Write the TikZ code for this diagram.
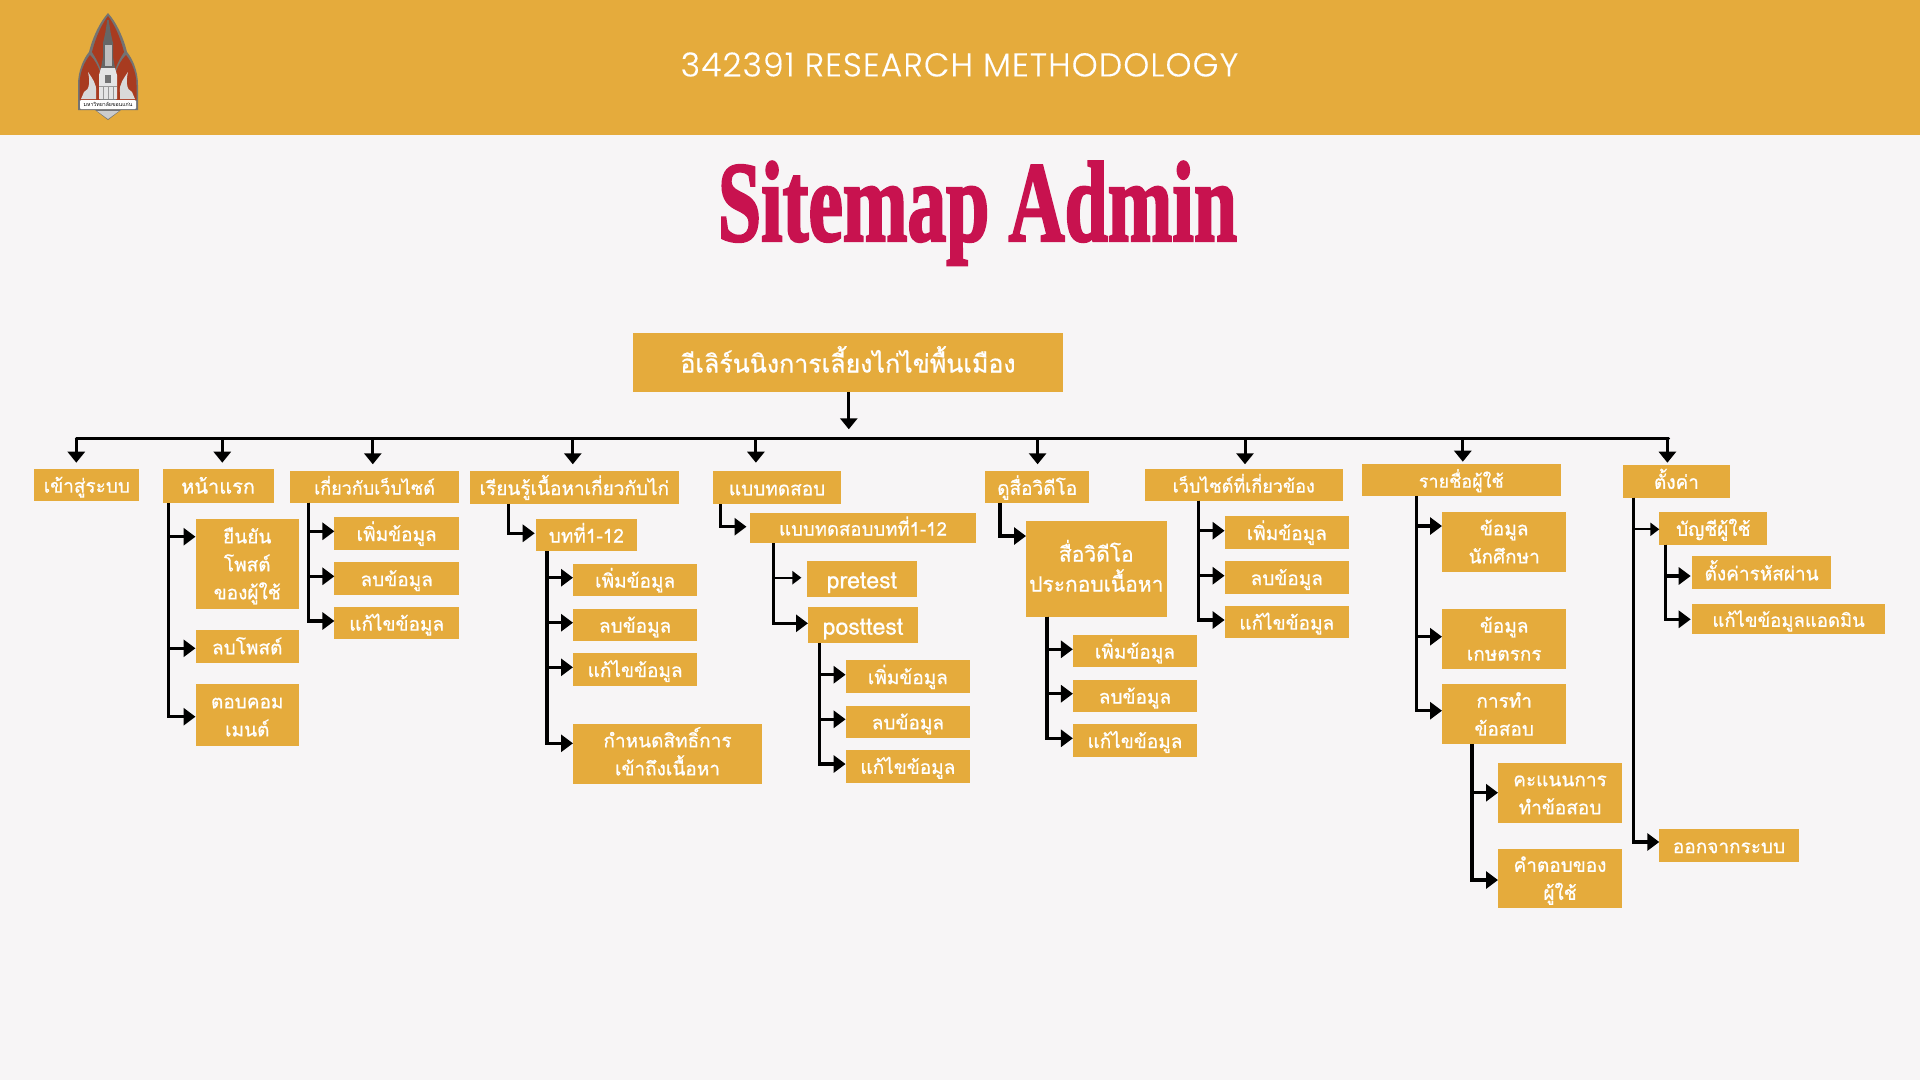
\documentclass[tikz,border=0pt]{standalone}
\usepackage{fontspec}
\usetikzlibrary{arrows.meta}
\newfontfamily\thaifont[Script=Thai,FakeBold=0.8]{Loma}
\newfontfamily\plainthai[Script=Thai]{Loma}
\newfontfamily\headfont[LetterSpace=3.5,FakeBold=0.3]{Poppins Light}
\newfontfamily\titlefont[FakeBold=2.5]{Liberation Serif Bold}
\definecolor{amber}{HTML}{E5AB3C}
\definecolor{paper}{HTML}{F7F5F6}
\definecolor{crimson}{HTML}{C8124F}
\definecolor{shieldred}{HTML}{A83B20}
\tikzset{
  box/.style={fill=amber,inner sep=0pt,outer sep=0pt,text=white,align=center,font=\thaifont\fontsize{19}{28}\selectfont},
  small/.style={font=\thaifont\fontsize{18}{28}\selectfont},
  link/.style={draw=black,line width=3.2pt,-{Triangle[length=12pt,width=17pt]}},
  thinlink/.style={line width=2.2pt,-{Triangle[length=9pt,width=13pt]}},
  droplink/.style={draw=black,line width=3pt,-{Triangle[length=11pt,width=17pt]}},
}
\newcommand\lowstrut{\rule[-6.5pt]{0pt}{28pt}}
\newcommand\bx[7][]{\node[box,#1,minimum width={(#5-#3)*1pt},minimum height={(#6-#4)*1pt}] (#2) at ({(#3+#5)/2},{(#4+#6)/2}) {\lowstrut #7\lowstrut};}
\newcommand\side[5][]{\draw[link,#1] (#2.south -| #3,0) |- (#4.west |- 0,#5);}
\newcommand\drop[3]{\draw[droplink,shorten >=#3pt] (busL -| #2,0) -- (#1.north -| #2,0);}
\begin{document}
\begin{tikzpicture}[x=1pt,y=-1pt]
\useasboundingbox (0,0) rectangle (1920,1080);
\fill[paper] (0,0) rectangle (1920,1080);
\fill[amber] (0,0) rectangle (1920,135);
% logo
\fill[black!55] (108,120) -- (95,110) -- (78,110) -- (78,85) .. controls (78,70) and (84,58) .. (89,52) .. controls (93,36) and (100,22) .. (108,13) .. controls (116,22) and (123,36) .. (127,52) .. controls (132,58) and (138,70) .. (138,85) -- (138,110) -- (121,110) -- cycle;
\fill[shieldred] (79.5,100) -- (79.5,85) .. controls (79.5,72) and (85,61) .. (90,55) .. controls (95,60) and (98,66) .. (100,72) -- (100,100) -- cycle;
\fill[shieldred] (136.5,100) -- (136.5,85) .. controls (136.5,72) and (131,61) .. (126,55) .. controls (121,60) and (118,66) .. (116,72) -- (116,100) -- cycle;
\fill[shieldred] (92,52) .. controls (96,36) and (102,24) .. (108,16) .. controls (114,24) and (120,36) .. (124,52) .. controls (120,58) and (117,64) .. (115,70) -- (101,70) .. controls (99,64) and (96,58) .. (92,52) -- cycle;
\fill[black!60] (107.3,20) -- (108.7,20) -- (110.7,33) -- (113,43) -- (113,57) -- (115,68) -- (101,68) -- (103,57) -- (103,43) -- (105.3,33) -- cycle;
\fill[white!75!black] (104.5,45) rectangle (111.5,66);
\fill[white!90!black] (101,68) -- (115,68) -- (117,75) -- (117,99) -- (99,99) -- (99,75) -- cycle;
\fill[black!55] (105,75) rectangle (111,83);
\draw[black!40,line width=.6pt] (99,86) -- (117,86) (103,86) -- (103,99) (108,86) -- (108,99) (113,86) -- (113,99);
\fill[white!85!black] (88,72) .. controls (92,78) and (97,84) .. (96,92) -- (96,99) -- (81,99) -- (84,92) .. controls (90,90) and (90,80) .. (88,72) -- cycle;
\fill[white!85!black] (128,72) .. controls (124,78) and (119,84) .. (120,92) -- (120,99) -- (135,99) -- (132,92) .. controls (126,90) and (126,80) .. (128,72) -- cycle;
\fill[white!80!black] (97,111) -- (119,111) -- (108,119) -- cycle;
\fill[white,rounded corners=1pt] (80,100) rectangle (136,109);
\node[inner sep=0pt,text=black,font=\plainthai\fontsize{5.2}{6}\selectfont] (logotext) at (108,104.5) {มหาวิทยาลัยขอนแก่น};
% header and title
\node[text=white,inner sep=0pt,font=\headfont\fontsize{33}{36}\selectfont] (header) at (959.5,64.5) {342391 RESEARCH METHODOLOGY};
\node[text=crimson,inner sep=0pt,anchor=base,font=\titlefont\fontsize{114}{130}\selectfont] (title) at (977.5,240.7) {\scalebox{0.68}[1]{Sitemap Admin}};
% root
\bx[font=\thaifont\fontsize{25}{32}\selectfont]{root}{633}{333}{1063}{392}{อีเลิร์นนิงการเลี้ยงไก่ไข่พื้นเมือง}
\coordinate (busL) at (76.3,438.3);
\coordinate (busR) at (1668.5,438.3);
\draw[black,line width=3pt,line cap=round] (busL) -- (busR);
\draw[droplink,shorten >=9pt] (root.south -| 848.8,0) -- (busL -| 848.8,0);
% top level
\bx{login}{34.4}{469}{139.3}{501.3}{เข้าสู่ระบบ}
\bx[font=\thaifont\fontsize{20}{28}\selectfont]{home}{162.5}{469}{273.7}{503.3}{หน้าแรก}
\bx[small]{about}{290}{471.3}{459}{502.7}{เกี่ยวกับเว็บไซต์}
\bx{learn}{470}{471.3}{678.6}{503.7}{เรียนรู้เนื้อหาเกี่ยวกับไก่}
\bx{quiz}{713}{471.3}{841.2}{504.3}{แบบทดสอบ}
\bx{video}{985}{471.3}{1089.4}{503.3}{ดูสื่อวิดีโอ}
\bx[small]{sites}{1145}{469.3}{1342.5}{500.7}{เว็บไซต์ที่เกี่ยวข้อง}
\bx[small]{users}{1362}{464.3}{1560.5}{496}{รายชื่อผู้ใช้}
\bx{settings}{1622.6}{465}{1730.3}{497.7}{ตั้งค่า}
\drop{login}{76.3}{6.3}
\drop{home}{222.3}{6.3}
\drop{about}{372.8}{7}
\drop{learn}{572.8}{7}
\drop{quiz}{755.9}{8.6}
\drop{video}{1037.6}{7}
\drop{sites}{1245}{5}
\drop{users}{1462.8}{2.6}
\drop{settings}{1667.4}{2.3}
% home
\bx{confirm}{195.5}{519}{299}{608.7}{ยืนยัน\\โพสต์\\ของผู้ใช้}
\bx{delpost}{195.5}{630.3}{299}{663.3}{ลบโพสต์}
\bx{comment}{195.5}{684}{299}{745.7}{ตอบคอม\\เมนต์}
\side{home}{168.8}{confirm}{536.7}
\side{home}{168.8}{delpost}{648.3}
\side{home}{168.8}{comment}{716.7}
% about
\bx{aadd}{334.4}{517.3}{459}{549.7}{เพิ่มข้อมูล}
\bx{adel}{334.4}{562.3}{459}{595}{ลบข้อมูล}
\bx{aedit}{334.4}{607}{459}{639.3}{แก้ไขข้อมูล}
\side{about}{308.5}{aadd}{531.3}
\side{about}{308.5}{adel}{576.3}
\side{about}{308.5}{aedit}{621}
% learn
\bx{chapter}{535.7}{519}{637}{551}{บทที่1-12}
\side[shorten >=1pt]{learn}{508.5}{chapter}{533.3}
\bx{cadd}{573}{563.7}{697.3}{596.3}{เพิ่มข้อมูล}
\bx{cdel}{573}{609}{697.3}{641}{ลบข้อมูล}
\bx{cedit}{573}{653.3}{697.3}{685.7}{แก้ไขข้อมูล}
\bx{crights}{573}{724}{762}{783.7}{กำหนดสิทธิ์การ\\เข้าถึงเนื้อหา}
\side{chapter}{546.9}{cadd}{577.7}
\side{chapter}{546.9}{cdel}{622.7}
\side{chapter}{546.9}{cedit}{667.3}
\side{chapter}{546.9}{crights}{743.3}
% quiz
\bx[font=\thaifont\fontsize{18.6}{28}\selectfont]{quizch}{750}{512.7}{976}{543.3}{แบบทดสอบบทที่1-12}
\side[shorten >=3.5pt]{quiz}{720.6}{quizch}{526.7}
\bx[font=\thaifont\fontsize{23}{28}\selectfont]{pretest}{806.8}{561}{917}{597}{\raisebox{-2pt}{pretest}}
\bx[font=\thaifont\fontsize{23}{28}\selectfont]{posttest}{808}{607.3}{918}{643.3}{\raisebox{-2pt}{posttest}}
\side[thinlink,shorten >=5.4pt]{quizch}{773.3}{pretest}{577.7}
\side{quizch}{773.3}{posttest}{623.3}
\bx{qadd}{845.6}{660.3}{970.2}{693}{เพิ่มข้อมูล}
\bx{qdel}{845.6}{705.7}{970.2}{738}{ลบข้อมูล}
\bx{qedit}{845.6}{750}{970.2}{782.7}{แก้ไขข้อมูล}
\side{posttest}{819.7}{qadd}{674.7}
\side{posttest}{819.7}{qdel}{719.3}
\side{posttest}{819.7}{qedit}{764}
% video
\bx[font=\thaifont\fontsize{21}{30}\selectfont]{media}{1026}{521.3}{1166.6}{616.7}{สื่อวิดีโอ\\ประกอบเนื้อหา}
\side{video}{1000}{media}{536}
\bx{vadd}{1072.9}{635}{1197}{667}{เพิ่มข้อมูล}
\bx{vdel}{1072.9}{680}{1197}{712}{ลบข้อมูล}
\bx{vedit}{1072.9}{724.3}{1197}{756.7}{แก้ไขข้อมูล}
\side{media}{1047}{vadd}{649.3}
\side{media}{1047}{vdel}{693.7}
\side{media}{1047}{vedit}{738.3}
% sites
\bx{sadd}{1224.6}{516.3}{1349}{548.7}{เพิ่มข้อมูล}
\bx{sdel}{1224.6}{561.3}{1349}{593.7}{ลบข้อมูล}
\bx{sedit}{1224.6}{606}{1349}{638.3}{แก้ไขข้อมูล}
\side{sites}{1198.8}{sadd}{530.7}
\side{sites}{1198.8}{sdel}{575.7}
\side{sites}{1198.8}{sedit}{620}
% users
\bx{student}{1442}{512}{1566.4}{571.7}{ข้อมูล\\นักศึกษา}
\bx{farmer}{1442}{609.3}{1566.4}{668.7}{ข้อมูล\\เกษตรกร}
\bx{exam}{1442}{684.3}{1566.4}{744}{การทำ\\ข้อสอบ}
\side{users}{1416.6}{student}{526}
\side{users}{1416.6}{farmer}{636.7}
\side{users}{1416.6}{exam}{710.7}
\bx{score}{1498}{762.7}{1622}{822.7}{คะแนนการ\\ทำข้อสอบ}
\bx{answer}{1498}{848.7}{1622}{908}{คำตอบของ\\ผู้ใช้}
\side{exam}{1472}{score}{792.7}
\side{exam}{1472}{answer}{880}
% settings
\bx{account}{1659.3}{512}{1767.3}{544.7}{บัญชีผู้ใช้}
\bx{logout}{1659.3}{829.3}{1798.7}{862}{ออกจากระบบ}
\bx{passwd}{1692.2}{556.3}{1831}{589.3}{ตั้งค่ารหัสผ่าน}
\bx[font=\thaifont\fontsize{18.5}{28}\selectfont]{adminedit}{1692.2}{604.3}{1885}{634.3}{แก้ไขข้อมูลแอดมิน}
\side[thinlink]{settings}{1633.7}{account}{529.3}
\side{settings}{1633.7}{logout}{842}
\side[shorten >=1.5pt]{account}{1665.6}{passwd}{576}
\side[shorten >=1.5pt]{account}{1665.6}{adminedit}{619.3}
\end{tikzpicture}
\end{document}
